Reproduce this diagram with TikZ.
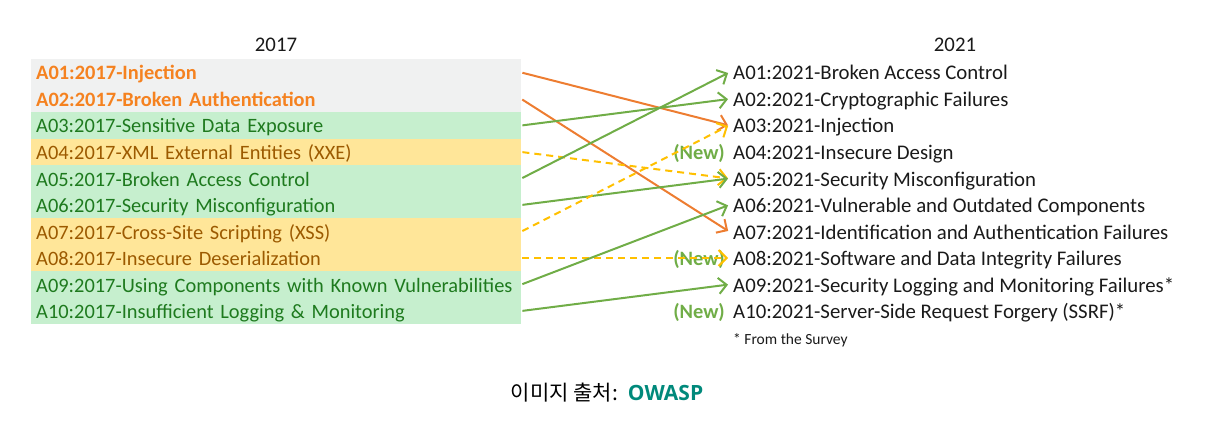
\documentclass[tikz,border=0pt]{standalone}
\usepackage{fontspec}
\setmainfont{Carlito}
\newfontfamily\kofont{Noto Sans CJK KR}
\newfontfamily\owaspfont{Open Sans}
\usetikzlibrary{arrows.meta}
\definecolor{grayfill}{HTML}{F0F1F1}
\definecolor{goodfill}{HTML}{C6EFCE}
\definecolor{goodtext}{HTML}{1E7A1E}
\definecolor{neutfill}{HTML}{FFE699}
\definecolor{neuttext}{HTML}{9C5A00}
\definecolor{orangetext}{HTML}{F58220}
\definecolor{orangeline}{HTML}{ED7D31}
\definecolor{greenline}{HTML}{70AD47}
\definecolor{yellowline}{HTML}{FFC000}
\definecolor{newgreen}{HTML}{70AD47}
\definecolor{owasp}{HTML}{00897B}
\definecolor{darktext}{HTML}{1A1A1A}
\tikzset{
  lbox/.style={anchor=west, text width=480pt, inner xsep=5pt, inner ysep=0pt,
    text height=17pt, text depth=2pt,
    minimum height=26.6pt, align=left, font=\fontsize{20.4}{22}\selectfont},
  gray17/.style={lbox, fill=grayfill, text=orangetext, font=\fontsize{20.4}{22}\selectfont\bfseries},
  good17/.style={lbox, fill=goodfill, text=goodtext},
  neut17/.style={lbox, fill=neutfill, text=neuttext},
  rbox/.style={anchor=west, inner xsep=4pt, inner ysep=0pt, text=darktext,
    text height=17pt, text depth=2pt, font=\fontsize{20.8}{22}\selectfont},
  newlbl/.style={anchor=east, inner sep=0pt, text=newgreen,
    text height=17pt, text depth=2pt, font=\fontsize{20.4}{22}\selectfont\bfseries},
  hdr/.style={text=darktext, font=\fontsize{20.8}{22}\selectfont},
  conn/.style={line width=2pt, -{Straight Barb[length=8pt,width=16pt]}, shorten <=1pt, shorten >=1pt},
  orng/.style={conn, draw=orangeline},
  grn/.style={conn, draw=greenline},
  ylw/.style={conn, draw=yellowline, dash pattern=on 7pt off 5pt},
}
\begin{document}
\begin{tikzpicture}[x=1pt,y=-1pt]
\useasboundingbox (0,0) rectangle (1230,422);
\node[hdr] (h17) at (276,45) {2017};
\node[hdr] (h21) at (955,45) {2021};
% left column
\node[gray17] (l1) at (31,72.5) {A01:2017-Injection};
\node[gray17] (l2) at (31,99) {A02:2017-Broken Authentication};
\node[good17] (l3) at (31,125.5) {A03:2017-Sensitive Data Exposure};
\node[neut17] (l4) at (31,152) {A04:2017-XML External Entities (XXE)};
\node[good17] (l5) at (31,178.5) {A05:2017-Broken Access Control};
\node[good17] (l6) at (31,205) {A06:2017-Security Misconfiguration};
\node[neut17] (l7) at (31,231.5) {A07:2017-Cross-Site Scripting (XSS)};
\node[neut17] (l8) at (31,258) {A08:2017-Insecure Deserialization};
\node[good17] (l9) at (31,284.5) {A09:2017-Using Components with Known Vulnerabilities};
\node[good17] (l10) at (31,311) {A10:2017-Insufficient Logging \& Monitoring};
% right column
\node[rbox] (r1) at (729,72.5) {A01:2021-Broken Access Control};
\node[rbox] (r2) at (729,99) {A02:2021-Cryptographic Failures};
\node[rbox] (r3) at (729,125.5) {A03:2021-Injection};
\node[rbox] (r4) at (729,152) {A04:2021-Insecure Design};
\node[rbox] (r5) at (729,178.5) {A05:2021-Security Misconfiguration};
\node[rbox] (r6) at (729,205) {A06:2021-Vulnerable and Outdated Components};
\node[rbox] (r7) at (729,231.5) {A07:2021-Identification and Authentication Failures};
\node[rbox] (r8) at (729,258) {A08:2021-Software and Data Integrity Failures};
\node[rbox] (r9) at (729,284.5) {A09:2021-Security Logging and Monitoring Failures*};
\node[rbox] (r10) at (729,311) {A10:2021-Server-Side Request Forgery (SSRF)*};
\node[newlbl] (n4) at (725,152) {(New)};
\node[newlbl] (n8) at (725,258) {(New)};
\node[newlbl] (n10) at (725,311) {(New)};
\node[anchor=west, inner xsep=4pt, text=darktext, font=\fontsize{15.5}{17}\selectfont] (fs) at (729,340) {* From the Survey};
% connectors
\draw[orng] (l1.east) -- (r3.west);
\draw[orng] (l2.east) -- (r7.west);
\draw[grn] (l3.east) -- (r2.west);
\draw[ylw] (l4.east) -- (r5.west);
\draw[grn] (l5.east) -- (r1.west);
\draw[grn] (l6.east) -- (r5.west);
\draw[ylw] (l7.east) -- (r3.west);
\draw[ylw] (l8.east) -- (r8.west);
\draw[grn] (l9.east) -- (r6.west);
\draw[grn] (l10.east) -- (r9.west);
% caption
\node[anchor=center, inner sep=0pt, font=\fontsize{21}{24}\selectfont] (cap) at (607,393)
  {{\kofont 이미지 출처:}\hspace{10pt}{\owaspfont\bfseries\color{owasp}OWASP}};
\end{tikzpicture}
\end{document}
